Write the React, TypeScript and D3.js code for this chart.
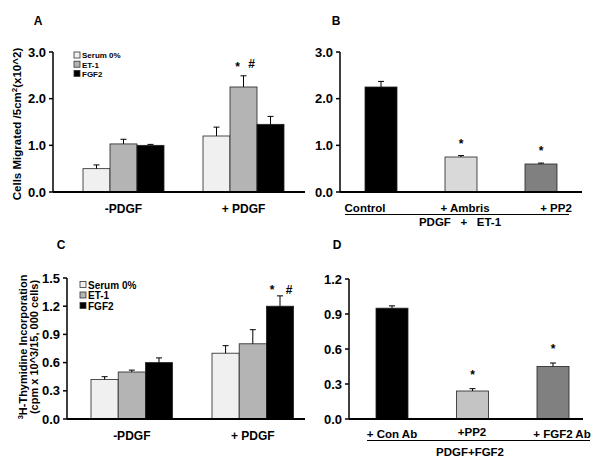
import React from "react";
import * as d3 from "d3";

// Panel A: cell migration
const groupsA = ["-PDGF", "+ PDGF"];
const seriesNames = ["Serum 0%", "ET-1", "FGF2"];
const seriesColors = ["#f0f0f0", "#b4b4b4", "#000000"];
const aValues = [
  [0.5, 1.03, 1.0],
  [1.2, 2.25, 1.45],
];
const aErrors = [
  [0.08, 0.1, 0.02],
  [0.19, 0.24, 0.17],
];
const yTicksAB = [0, 1, 2, 3];

// Panel B
const bCats = ["Control", "+ Ambris", "+ PP2"];
const bValues = [2.25, 0.75, 0.6];
const bErrors = [0.12, 0.03, 0.02];
const bColors = ["#000000", "#d9d9d9", "#808080"];
const bStars = [false, true, true];

// Panel C: thymidine incorporation
const cValues = [
  [0.42, 0.5, 0.6],
  [0.7, 0.8, 1.2],
];
const cErrors = [
  [0.03, 0.02, 0.05],
  [0.08, 0.15, 0.11],
];
const yTicksC = [0, 0.3, 0.6, 0.9, 1.2, 1.5];

// Panel D
const dCats = ["+ Con Ab", "+PP2", "+ FGF2 Ab"];
const dValues = [0.95, 0.24, 0.45];
const dErrors = [0.02, 0.02, 0.03];
const dColors = ["#000000", "#c4c4c4", "#808080"];
const dStars = [false, true, true];
const yTicksD = [0, 0.3, 0.6, 0.9, 1.2];

const FONT = "'Liberation Sans', Arial, sans-serif";

function ErrBar({ x, y0, y1 }: { x: number; y0: number; y1: number }) {
  return (
    <g stroke="#000" strokeWidth={1}>
      <line x1={x} x2={x} y1={y0} y2={y1} />
      <line x1={x - 3} x2={x + 3} y1={y1} y2={y1} />
    </g>
  );
}

function YAxis({ x, y, ticks, fmt }: { x: number; y: d3.ScaleLinear<number, number>; ticks: number[]; fmt: (v: number) => string }) {
  const r = y.range();
  return (
    <g>
      <line x1={x} x2={x} y1={r[0]} y2={r[1]} stroke="#000" strokeWidth={1.5} />
      {ticks.map((t) => (
        <g key={t}>
          <line x1={x - 4} x2={x} y1={y(t)} y2={y(t)} stroke="#000" strokeWidth={1.5} />
          <text x={x - 7} y={y(t)} dy="0.36em" textAnchor="end" fontSize={13} fontWeight="bold" fontFamily={FONT}>
            {fmt(t)}
          </text>
        </g>
      ))}
    </g>
  );
}

function Legend({ x, y, step, fs }: { x: number; y: number; step: number; fs: number }) {
  return (
    <g>
      {seriesNames.map((n, i) => (
        <g key={n}>
          <rect x={x} y={y + i * step - 3.5} width={6} height={6} fill={seriesColors[i]} stroke="#333" strokeWidth={0.8} />
          <text x={x + 8} y={y + i * step} dy="0.35em" fontSize={fs} fontWeight="bold" fontFamily={FONT}>
            {n}
          </text>
        </g>
      ))}
    </g>
  );
}

function GroupedPanel({
  values, errors, groups, y, x0, xEnd, groupX, barW, axisX, ticks, fmt, stars,
}: any) {
  const base = y(0);
  return (
    <g>
      {values.map((row: number[], gi: number) =>
        row.map((v: number, si: number) => {
          const bx = groupX(groups[gi]) + si * barW;
          return (
            <g key={`${gi}-${si}`}>
              <rect x={bx} y={y(v)} width={barW} height={base - y(v)} fill={seriesColors[si]} stroke="#222" strokeWidth={0.8} />
              <ErrBar x={bx + barW / 2} y0={y(v)} y1={y(v + errors[gi][si])} />
            </g>
          );
        })
      )}
      <YAxis x={axisX} y={y} ticks={ticks} fmt={fmt} />
      <line x1={x0} x2={xEnd} y1={base} y2={base} stroke="#000" strokeWidth={2} />
      {groups.map((g: string) => (
        <text key={g} x={groupX(g) + barW * 1.5} y={base + 21} textAnchor="middle" fontSize={12} fontWeight="bold" fontFamily={FONT}>
          {g}
        </text>
      ))}
      {stars}
    </g>
  );
}

export default function App() {
  // Panel A scales
  const yA = d3.scaleLinear().domain([0, 3]).range([192, 52]);
  const xA = d3.scaleOrdinal<string, number>().domain(groupsA).range([83, 203]);
  const barA = 27;
  // Panel C scales
  const yC = d3.scaleLinear().domain([0, 1.5]).range([419, 278]);
  const xC = d3.scaleOrdinal<string, number>().domain(groupsA).range([91, 212]);
  const barC = 27.2;
  // Panel B
  const yB = d3.scaleLinear().domain([0, 3]).range([192, 52]);
  const xB = d3.scalePoint<string>().domain(bCats).range([381, 541]);
  const barB = 32;
  // Panel D
  const yD = d3.scaleLinear().domain([0, 1.2]).range([419, 279]);
  const xD = d3.scalePoint<string>().domain(dCats).range([392, 553]);
  const barD = 32;

  const f1 = (v: number) => v.toFixed(1);

  const starsA = (
    <g fontFamily={FONT} fontWeight="bold">
      <text x={xA("+ PDGF")! + barA * 1.5 - 6} y={yA(2.49) - 5} textAnchor="middle" fontSize={12}>*</text>
      <text x={xA("+ PDGF")! + barA * 1.5 + 8} y={yA(2.49) - 8} textAnchor="middle" fontSize={12}>#</text>
    </g>
  );
  const starsC = (
    <g fontFamily={FONT} fontWeight="bold">
      <text x={xC("+ PDGF")! + barC * 2.5 - 8} y={yC(1.31) - 2} textAnchor="middle" fontSize={12}>*</text>
      <text x={xC("+ PDGF")! + barC * 2.5 + 9} y={yC(1.31) - 2} textAnchor="middle" fontSize={12}>#</text>
    </g>
  );

  return (
    <svg width={600} height={472} style={{ display: "block", position: "absolute", left: 0, top: 0 }}>
      <rect width={600} height={472} fill="#fff" />
      {/* Panel letters */}
      <g fontFamily={FONT} fontWeight="bold" fontSize={12}>
        <text x={38} y={25} textAnchor="middle">A</text>
        <text x={336} y={25} textAnchor="middle">B</text>
        <text x={61} y={249} textAnchor="middle">C</text>
        <text x={337} y={249} textAnchor="middle">D</text>
      </g>

      {/* Panel A */}
      <text transform="translate(21,124) rotate(-90)" textAnchor="middle" fontSize={11.5} fontWeight="bold" fontFamily={FONT}>
        Cells Migrated /5cm<tspan dy={-4} fontSize={8}>2</tspan><tspan dy={4}>(x10^2)</tspan>
      </text>
      <GroupedPanel values={aValues} errors={aErrors} groups={groupsA} y={yA} x0={53} xEnd={305}
        groupX={(g: string) => xA(g)} barW={barA} axisX={53} ticks={yTicksAB} fmt={f1} stars={starsA} />
      <Legend x={74} y={55.5} step={9.2} fs={8} />

      {/* Panel B */}
      {bCats.map((c, i) => {
        const cx = xB(c)!;
        return (
          <g key={c}>
            <rect x={cx - barB / 2} y={yB(bValues[i])} width={barB} height={yB(0) - yB(bValues[i])} fill={bColors[i]} stroke="#222" strokeWidth={0.8} />
            <ErrBar x={cx} y0={yB(bValues[i])} y1={yB(bValues[i] + bErrors[i])} />
            {bStars[i] && (
              <text x={cx} y={yB(bValues[i] + bErrors[i]) - 8} textAnchor="middle" fontSize={12} fontWeight="bold" fontFamily={FONT}>*</text>
            )}
          </g>
        );
      })}
      <YAxis x={340} y={yB} ticks={yTicksAB} fmt={f1} />
      <line x1={340} x2={582} y1={192} y2={192} stroke="#000" strokeWidth={2} />
      <g fontFamily={FONT} fontWeight="bold" fontSize={11.5}>
        <text x={365} y={212} textAnchor="middle">Control</text>
        <text x={465} y={212} textAnchor="middle">+ Ambris</text>
        <text x={556} y={212} textAnchor="middle">+ PP2</text>
        <line x1={345} x2={569} y1={214.5} y2={214.5} stroke="#000" strokeWidth={1.2} />
        <text x={460} y={225.5} textAnchor="middle" xmlSpace="preserve">PDGF   +   ET-1</text>
      </g>

      {/* Panel C */}
      <text transform="translate(27,347) rotate(-90)" textAnchor="middle" fontSize={11} fontWeight="bold" fontFamily={FONT}>
        <tspan dy={-4} fontSize={7.5}>3</tspan><tspan dy={4}>H-Thymidine Incorporation</tspan>
      </text>
      <text transform="translate(38,347) rotate(-90)" textAnchor="middle" fontSize={11} fontWeight="bold" fontFamily={FONT}>
        (cpm x 10^3/15, 000 cells)
      </text>
      <GroupedPanel values={cValues} errors={cErrors} groups={groupsA} y={yC} x0={67} xEnd={305}
        groupX={(g: string) => xC(g)} barW={barC} axisX={67} ticks={yTicksC} fmt={f1} stars={starsC} />
      <Legend x={80} y={285} step={10.5} fs={10} />

      {/* Panel D */}
      {dCats.map((c, i) => {
        const cx = xD(c)!;
        return (
          <g key={c}>
            <rect x={cx - barD / 2} y={yD(dValues[i])} width={barD} height={yD(0) - yD(dValues[i])} fill={dColors[i]} stroke="#222" strokeWidth={0.8} />
            <ErrBar x={cx} y0={yD(dValues[i])} y1={yD(dValues[i] + dErrors[i])} />
            {dStars[i] && (
              <text x={cx} y={yD(dValues[i] + dErrors[i]) - 10} textAnchor="middle" fontSize={12} fontWeight="bold" fontFamily={FONT}>*</text>
            )}
          </g>
        );
      })}
      <YAxis x={349} y={yD} ticks={yTicksD} fmt={f1} />
      <line x1={349} x2={583} y1={419} y2={419} stroke="#000" strokeWidth={2} />
      <g fontFamily={FONT} fontWeight="bold" fontSize={11.5}>
        <text x={392} y={438} textAnchor="middle">+ Con Ab</text>
        <text x={472} y={436} textAnchor="middle">+PP2</text>
        <text x={562} y={438} textAnchor="middle">+ FGF2 Ab</text>
        <line x1={367} x2={590} y1={440.5} y2={440.5} stroke="#000" strokeWidth={1.2} />
        <text x={470} y={456} textAnchor="middle">PDGF+FGF2</text>
      </g>
    </svg>
  );
}
